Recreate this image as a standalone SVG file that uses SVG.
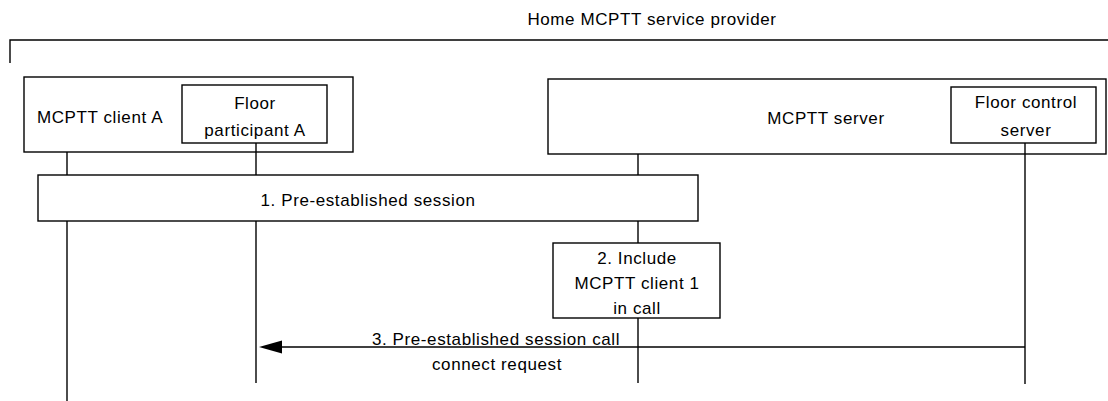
<svg xmlns="http://www.w3.org/2000/svg" width="1108" height="401" viewBox="0 0 1108 401">
<style>
text{font-family:"Liberation Sans",Arial,sans-serif;font-size:17px;fill:#000;letter-spacing:0.6px;text-anchor:middle}
.box{fill:#fff;stroke:#000;stroke-width:1.4}
.ln{fill:none;stroke:#000;stroke-width:1.4}
</style>
<rect width="1108" height="401" fill="#fff"/>
<g id="provider">
<text x="652" y="25">Home MCPTT service provider</text>
<path class="ln" d="M10,63 V40 H1108"/>
</g>
<g id="lifelines" class="ln">
<line x1="67" y1="152" x2="67" y2="401"/>
<line x1="256" y1="143" x2="256" y2="383"/>
<line x1="638" y1="154" x2="638" y2="383"/>
<line x1="1025" y1="143" x2="1025" y2="384"/>
</g>
<g id="clientA">
<rect class="box" x="24" y="77" width="329" height="75" style="fill:none"/>
<text x="100" y="123">MCPTT client A</text>
</g>
<g id="floorParticipantA">
<rect class="box" x="182" y="85" width="145" height="58"/>
<text x="255" y="109">Floor</text>
<text x="255" y="136">participant A</text>
</g>
<g id="mcpttServer">
<rect class="box" x="548" y="79" width="558" height="75" style="fill:none"/>
<text x="826" y="124">MCPTT server</text>
</g>
<g id="floorControlServer">
<rect class="box" x="951" y="87" width="145" height="56"/>
<text x="1026" y="108">Floor control</text>
<text x="1026" y="136">server</text>
</g>
<g id="step1">
<rect class="box" x="38" y="175" width="660" height="46"/>
<text x="368" y="206">1. Pre-established session</text>
</g>
<g id="step2">
<rect class="box" x="553" y="243" width="167" height="75"/>
<text x="637" y="264">2. Include</text>
<text x="637" y="289">MCPTT client 1</text>
<text x="637" y="314">in call</text>
</g>
<g id="connectors">
<line class="ln" x1="1025" y1="347" x2="280" y2="347"/>
<polygon points="259,347 282,340.5 282,353.5" fill="#000"/>
<text x="496" y="345">3. Pre-established session call</text>
<text x="497" y="370">connect request</text>
</g>
</svg>
